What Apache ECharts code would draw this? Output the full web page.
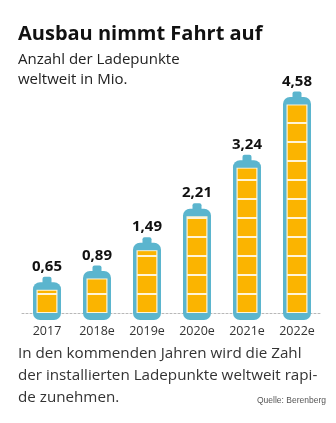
<!DOCTYPE html>
<html>
<head>
<meta charset="utf-8">
<script src="https://cdn.jsdelivr.net/npm/echarts@6/dist/echarts.min.js"></script>
<style>
html,body{margin:0;padding:0;background:#fff;}
#c{width:336px;height:423px;}
</style>
</head>
<body>
<div id="c"></div>
<script>
var categories = ['2017', '2018e', '2019e', '2020e', '2021e', '2022e'];
var values = [0.65, 0.89, 1.49, 2.21, 3.24, 4.58];
var valueLabels = ['0,65', '0,89', '1,49', '2,21', '3,24', '4,58'];

var Y_MIN = -0.15, Y_MAX = 4.6;
var BLUE = '#5BB5CE', ORANGE = '#FBB400', CREAM = '#FFF4D6';
var FONT = '"Open Sans", "Noto Sans", sans-serif';

function renderBattery(params, api) {
  var i = api.value(0), v = api.value(1);
  var top = api.coord([i, v]);
  var bot = api.coord([i, Y_MIN]);
  var cx = top[0], ty = top[1], by = bot[1];
  var bw = 28, x0 = cx - bw / 2;
  var children = [];
  children.push({type: 'rect', shape: {x: cx - 4.5, y: ty - 5.5, width: 9, height: 9, r: [2, 2, 0, 0]}, style: {fill: BLUE}});
  children.push({type: 'rect', shape: {x: x0, y: ty, width: bw, height: by - ty, r: [7, 7, 7, 7]}, style: {fill: BLUE}});
  var ix = x0 + 3.5, iw = bw - 7, iTop = ty + 7.5, iBot = by - 7;
  children.push({type: 'rect', shape: {x: ix, y: iTop, width: iw, height: iBot - iTop}, style: {fill: CREAM}});
  var pitch = 19, yb = iBot;
  while (yb - iTop > 2) {
    var yt = Math.max(iTop, yb - pitch);
    var h = (yb - 1) - (yt + 1);
    if (h > 0.5) {
      children.push({type: 'rect', shape: {x: ix + 1.2, y: yt + 1, width: iw - 2.4, height: h}, style: {fill: ORANGE}});
    }
    yb = yt;
  }
  children.push({type: 'text', style: {x: cx, y: ty - 15.5, text: valueLabels[params.dataIndex], align: 'center', verticalAlign: 'middle', font: 'bold 15px ' + FONT, fill: '#111'}});
  return {type: 'group', children: children};
}

var chart = echarts.init(document.getElementById('c'), null, {renderer: 'canvas'});
chart.setOption({
  backgroundColor: '#fff',
  animation: false,
  grid: {left: 22, right: 14, top: 96, bottom: 103},
  xAxis: {
    type: 'category', data: categories,
    axisLine: {show: true, lineStyle: {color: '#b8b8b8', type: [2, 2], width: 1}},
    axisTick: {show: false},
    axisLabel: {color: '#333', fontSize: 12.5, fontFamily: FONT, margin: 5}
  },
  yAxis: {type: 'value', min: Y_MIN, max: Y_MAX, show: false, splitLine: {show: false}},
  series: [{
    type: 'custom',
    renderItem: renderBattery,
    data: values.map(function (v, i) { return [i, v]; }),
    z: 3
  }],
  graphic: [
    {type: 'text', left: 18, top: 24, style: {text: 'Ausbau nimmt Fahrt auf', font: 'bold 20px ' + FONT, fill: '#111'}},
    {type: 'text', left: 18, top: 50, style: {text: 'Anzahl der Ladepunkte\nweltweit in Mio.', font: '15px ' + FONT, lineHeight: 20, fill: '#222'}},
    {type: 'text', left: 18, top: 343, style: {text: 'In den kommenden Jahren wird die Zahl\nder installierten Ladepunkte weltweit rapi-\nde zunehmen.', font: '15.2px ' + FONT, lineHeight: 21.7, fill: '#333'}},
    {type: 'text', right: 10, top: 396, style: {text: 'Quelle: Berenberg', font: '8.5px "Liberation Sans", Arial, sans-serif', fill: '#555'}}
  ]
});
</script>
</body>
</html>
